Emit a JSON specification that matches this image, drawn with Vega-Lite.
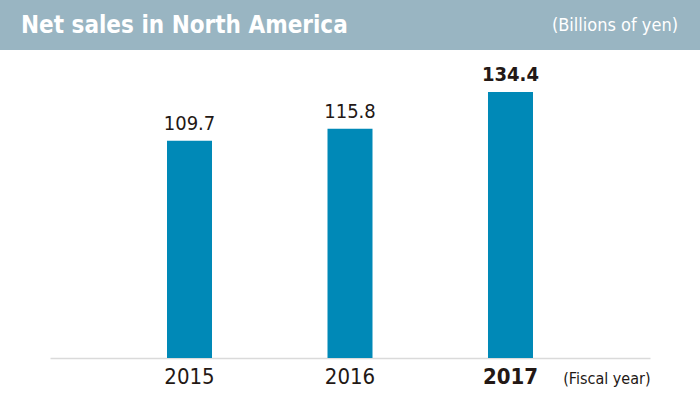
{
  "$schema": "https://vega.github.io/schema/vega-lite/v6.json",
  "padding": 0,
  "background": "white",
  "spacing": 0,
  "center": true,
  "config": {
    "view": {"stroke": null},
    "font": "DejaVu Sans Condensed, Roboto, sans-serif",
    "concat": {"spacing": 0}
  },
  "vconcat": [
    {
      "width": 700,
      "height": 50,
      "view": {"fill": "#99b5c2", "stroke": null},
      "layer": [
        {
          "data": {"values": [{"t": "Net sales in North America", "p": "L"}]},
          "mark": {"type": "text", "align": "left", "baseline": "middle", "dx": 21, "dy": 1, "fontSize": 24, "fontWeight": "bold", "color": "white", "font": "DejaVu Sans Condensed, Roboto, sans-serif"},
          "encoding": {
            "x": {"field": "p", "type": "nominal", "scale": {"type": "point", "domain": ["L", "R"], "padding": 0}, "axis": null},
            "text": {"field": "t"}
          }
        },
        {
          "data": {"values": [{"t": "(Billions of yen)", "p": "R"}]},
          "mark": {"type": "text", "align": "right", "baseline": "middle", "dx": -22, "dy": 1, "fontSize": 18, "color": "white", "font": "DejaVu Sans Condensed, Roboto, sans-serif"},
          "encoding": {
            "x": {"field": "p", "type": "nominal", "scale": {"type": "point", "domain": ["L", "R"], "padding": 0}, "axis": null},
            "text": {"field": "t"}
          }
        }
      ]
    },
    {
      "width": 600,
      "height": 308,
      "data": {"values": [
        {"year": "2015", "sales": 109.7},
        {"year": "2016", "sales": 115.8},
        {"year": "2017", "sales": 134.4}
      ]},
      "encoding": {
        "x": {
          "field": "year", "type": "nominal", "sort": null,
          "scale": {"type": "band", "paddingInner": 0.7196, "paddingOuter": 0.729},
          "axis": {
            "labelAngle": 0,
            "domainColor": "#dadada",
            "domainWidth": 1.5,
            "ticks": false,
            "labelFontSize": 22,
            "labelColor": "#231815",
            "labelPadding": 8,
            "labelFont": "DejaVu Sans Condensed, Roboto, sans-serif",
            "labelFontWeight": {"condition": {"test": "datum.value == '2017'", "value": "bold"}, "value": "normal"},
            "title": "(Fiscal year)",
            "titleFont": "DejaVu Sans Condensed, Roboto, sans-serif",
            "titleFontSize": 16,
            "titleFontWeight": "normal",
            "titleColor": "#231815",
            "titleAnchor": "end",
            "titleAlign": "right",
            "titleX": 600,
            "titleY": 20,
            "titleBaseline": "middle"
          }
        },
        "y": {
          "field": "sales", "type": "quantitative",
          "scale": {"domain": [0, 155.6], "nice": false, "zero": true},
          "axis": null
        }
      },
      "layer": [
        {"mark": {"type": "bar", "color": "#0089b7"}},
        {
          "transform": [{"filter": "datum.year != '2017'"}],
          "mark": {"type": "text", "baseline": "alphabetic", "dy": -11, "fontSize": 20, "color": "#231815", "font": "DejaVu Sans Condensed, Roboto, sans-serif"},
          "encoding": {
            "text": {"field": "sales", "type": "quantitative", "format": ".1f"}
          }
        },
        {
          "transform": [{"filter": "datum.year == '2017'"}],
          "mark": {"type": "text", "baseline": "alphabetic", "dy": -11, "fontSize": 20, "fontWeight": "bold", "color": "#231815", "font": "DejaVu Sans Condensed, Roboto, sans-serif"},
          "encoding": {
            "text": {"field": "sales", "type": "quantitative", "format": ".1f"}
          }
        }
      ]
    }
  ]
}
